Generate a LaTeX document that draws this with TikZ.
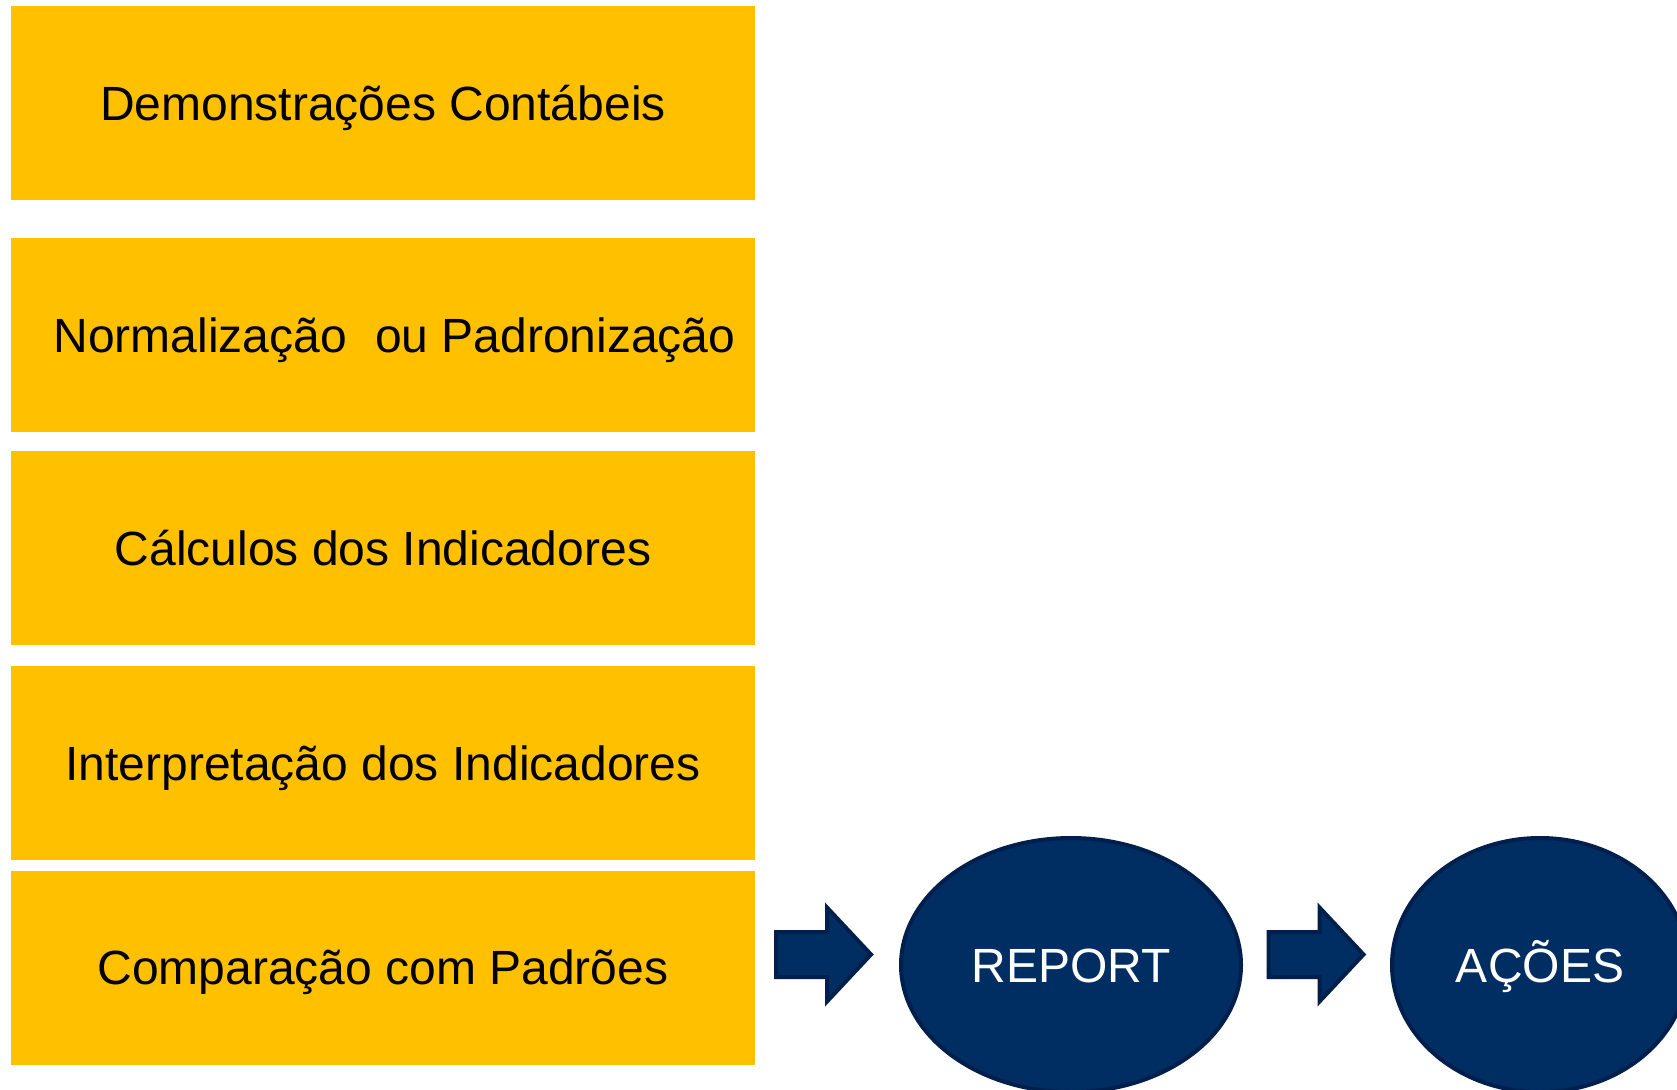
\documentclass[tikz,border=0pt]{standalone}
\usepackage{fontspec}
\setmainfont{Liberation Sans}
\usetikzlibrary{shapes.geometric}
\definecolor{boxyellow}{RGB}{255,192,0}
\definecolor{navyfill}{RGB}{0,45,98}
\definecolor{navyline}{RGB}{0,31,77}
\begin{document}
\begin{tikzpicture}[x=1pt,y=-1pt,
  stepbox/.style={fill=boxyellow, minimum width=744pt, minimum height=194pt, inner sep=0pt,
    font=\fontsize{48}{56}\selectfont, text=black, text height=34.5pt, text depth=0pt},
  oval/.style={ellipse, fill=navyfill, draw=navyline, line width=4pt, minimum height=254pt,
    inner sep=0pt, text=white, font=\fontsize{48}{56}\selectfont, text height=34pt, text depth=0pt},
  blockarr/.style={fill=navyfill, draw=navyline, line width=4pt, line join=miter}]
\useasboundingbox (0,0) rectangle (1677,1089);
\clip (0,0) rectangle (1677,1089);
\node[stepbox] (demo) at (383,103) {Demonstrações Contábeis};
\node[stepbox] (norm) at (383,335) {\hspace*{23pt}Normalização\hspace{28pt}ou Padronização};
\node[stepbox] (calc) at (383,548) {Cálculos dos Indicadores};
\node[stepbox] (interp) at (383,763) {Interpretação dos Indicadores};
\node[stepbox] (comp) at (383,967.5) {Comparação com Padrões};
\node[oval, minimum width=340pt] (report) at (1071,965) {REPORT};
\node[oval, minimum width=296pt] (acoes) at (1540,965) {AÇÕES};
\coordinate (a1) at (776,954.5);
\coordinate (a2) at (1268.5,954.5);
\foreach \a in {a1,a2}{
  \draw[blockarr] (\a) +(0,-22.5) -- +(51,-22.5) -- +(51,-47) -- +(95,0) -- +(51,47) -- +(51,22.5) -- +(0,22.5) -- cycle;
}
\end{tikzpicture}
\end{document}
